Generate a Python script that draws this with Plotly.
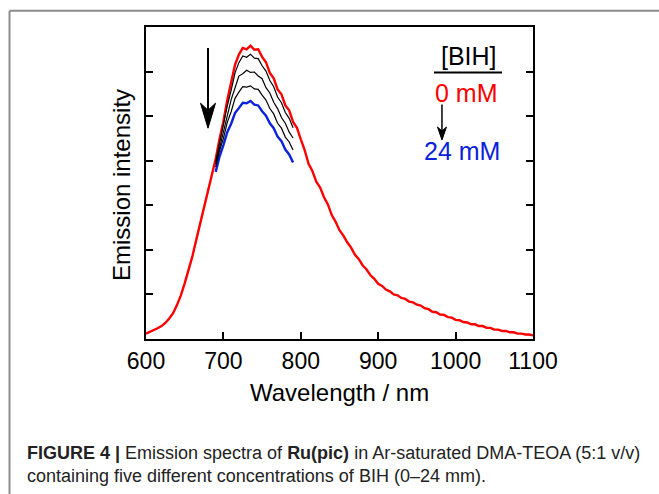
import plotly.graph_objects as go

# ---------------- data ----------------
wl_red = [600, 605, 610, 615, 620, 625, 630, 635, 640, 645, 650, 655, 660, 665, 670, 675,
          680, 685, 690, 695, 700, 705, 710, 715, 720, 725, 730, 735, 740, 745, 750, 755,
          760, 765, 770, 775, 780, 785, 790, 795, 800, 805, 810, 815, 820, 825, 830, 835,
          840, 845, 850, 855, 860, 865, 870, 875, 880, 885, 890, 895, 900, 905, 910, 915,
          920, 925, 930, 935, 940, 945, 950, 955, 960, 965, 970, 975, 980, 985, 990, 995,
          1000, 1005, 1010, 1015, 1020, 1025, 1030, 1035, 1040, 1045, 1050, 1055, 1060,
          1065, 1070, 1075, 1080, 1085, 1090, 1095, 1100]
int_0mM = [0.12, 0.16, 0.19, 0.24, 0.29, 0.36, 0.46, 0.58, 0.76, 0.98, 1.25, 1.55, 1.86, 2.23, 2.59, 2.98,
           3.31, 3.69, 4.04, 4.49, 4.88, 5.36, 5.72, 6.15, 6.38, 6.53, 6.50, 6.58, 6.49, 6.50, 6.33, 6.21,
           5.97, 5.85, 5.60, 5.49, 5.24, 5.13, 4.87, 4.74, 4.48, 4.24, 3.93, 3.77, 3.53, 3.40, 3.18, 3.02,
           2.78, 2.63, 2.44, 2.32, 2.17, 2.05, 1.89, 1.79, 1.65, 1.56, 1.43, 1.35, 1.24, 1.19, 1.11, 1.07,
           1.00, 0.98, 0.92, 0.90, 0.84, 0.82, 0.77, 0.75, 0.69, 0.67, 0.61, 0.60, 0.55, 0.54, 0.49, 0.48,
           0.43, 0.42, 0.38, 0.37, 0.33, 0.33, 0.29, 0.29, 0.25, 0.25, 0.21, 0.21, 0.18,
           0.18, 0.15, 0.15, 0.12, 0.12, 0.10, 0.10, 0.08]

wl_q = [690, 695, 700, 705, 710, 715, 720, 725, 730, 735, 740, 745, 750, 755, 760, 765,
        770, 775, 780, 785, 790]
int_q1 = [3.98, 4.42, 4.78, 5.23, 5.58, 5.97, 6.20, 6.35, 6.32, 6.39, 6.30, 6.29, 6.13, 6.01,
          5.80, 5.66, 5.43, 5.30, 5.08, 4.95, 4.74]
int_q2 = [3.92, 4.28, 4.68, 5.00, 5.37, 5.63, 5.90, 5.95, 6.03, 5.98, 5.99, 5.90, 5.84, 5.64,
          5.52, 5.31, 5.17, 4.97, 4.84, 4.64, 4.51]
int_q3 = [3.86, 4.22, 4.50, 4.86, 5.10, 5.40, 5.54, 5.66, 5.65, 5.68, 5.61, 5.60, 5.47, 5.36,
          5.17, 5.05, 4.84, 4.73, 4.53, 4.42, 4.24]
int_24mM = [3.75, 4.09, 4.35, 4.64, 4.83, 5.07, 5.18, 5.30, 5.29, 5.34, 5.26, 5.24, 5.11, 5.01,
            4.84, 4.73, 4.54, 4.44, 4.25, 4.14, 3.96]

x_ticks = [600, 700, 800, 900, 1000, 1100]
y_ticks = [1, 2, 3, 4, 5, 6]

RED = "#ff0000"
BLUE = "#0a22dc"
FONT = "Liberation Sans, Arial, sans-serif"

fig = go.Figure()
fig.add_trace(go.Scatter(x=wl_red, y=int_0mM, mode="lines", line=dict(color=RED, width=2.4)))
fig.add_trace(go.Scatter(x=wl_q, y=int_24mM, mode="lines", line=dict(color=BLUE, width=2.4)))
for s in (int_q3, int_q2, int_q1):
    fig.add_trace(go.Scatter(x=wl_q, y=s, mode="lines", line=dict(color="black", width=1.2)))

fig.update_layout(
    width=659, height=494,
    margin=dict(l=146, r=126, t=27, b=155),
    paper_bgcolor="white", plot_bgcolor="white",
    showlegend=False,
    font=dict(family=FONT, color="black"),
)
fig.update_xaxes(range=[600, 1100], tickvals=x_ticks, ticks="inside", ticklen=7, tickwidth=2,
                 tickcolor="black", showline=True, linewidth=2, linecolor="black", mirror=True,
                 showgrid=False, zeroline=False, tickfont=dict(size=23, family=FONT, color="black"))
fig.update_yaxes(range=[0, 7], tickvals=y_ticks, ticks="inside", ticklen=7, tickwidth=2,
                 tickcolor="black", showline=True, linewidth=2, linecolor="black", mirror="ticks",
                 showgrid=False, zeroline=False, showticklabels=False)

ann = []
ann.append(dict(xref="paper", yref="paper", x=-0.062, y=0.4936, text="Emission intensity",
                textangle=-90, showarrow=False, font=dict(size=24, family=FONT, color="black"),
                xanchor="center", yanchor="middle"))
ann.append(dict(xref="paper", yref="paper", x=0.5, y=-0.173, text="Wavelength / nm",
                showarrow=False, font=dict(size=24, family=FONT, color="black"),
                xanchor="center", yanchor="middle"))
ann.append(dict(xref="x", yref="y", x=1017.3, y=6.35, text="[BIH]", showarrow=False,
                font=dict(size=25, family=FONT, color="black"), xanchor="center", yanchor="middle"))
ann.append(dict(xref="x", yref="y", x=1014.7, y=5.52, text="0 mM", showarrow=False,
                font=dict(size=25, family=FONT, color=RED), xanchor="center", yanchor="middle"))
ann.append(dict(xref="x", yref="y", x=1008.9, y=4.21, text="24 mM", showarrow=False,
                font=dict(size=25, family=FONT, color=BLUE), xanchor="center", yanchor="middle"))
# caption
ann.append(dict(xref="paper", yref="paper", x=-0.3127, y=-0.3654, xanchor="left", yanchor="middle",
                text="<b>FIGURE 4 |</b> Emission spectra of <b>Ru(pic)</b> in Ar-saturated DMA-TEOA (5:1 v/v)",
                showarrow=False, font=dict(size=18, family=FONT, color="#222222")))
ann.append(dict(xref="paper", yref="paper", x=-0.3127, y=-0.4391, xanchor="left", yanchor="middle",
                text="containing five different concentrations of BIH (0–24 mm).",
                showarrow=False, font=dict(size=18, family=FONT, color="#222222")))
fig.update_layout(annotations=ann)

shapes = [
    # underline below [BIH]
    dict(type="line", xref="x", yref="y", x0=972, x1=1060, y0=5.98, y1=5.98,
         line=dict(color="black", width=2)),
    # big arrow shaft + head
    dict(type="line", xref="x", yref="y", x0=680.1, x1=680.1, y0=6.53, y1=5.0,
         line=dict(color="black", width=2)),
    dict(type="path", xref="x", yref="y", xsizemode="pixel", ysizemode="pixel",
         xanchor=680.1, yanchor=4.73, path="M0,0 L-7.5,25 L0,18 L7.5,25 Z",
         fillcolor="black", line=dict(color="black", width=1)),
    # small arrow shaft + head
    dict(type="line", xref="x", yref="y", x0=982.4, x1=982.4, y0=5.26, y1=4.6,
         line=dict(color="black", width=1.5)),
    dict(type="path", xref="x", yref="y", xsizemode="pixel", ysizemode="pixel",
         xanchor=982.4, yanchor=4.465, path="M0,0 L-4.5,13 L0,9 L4.5,13 Z",
         fillcolor="black", line=dict(color="black", width=1)),
    # figure frame (grey)
    dict(type="line", xref="paper", yref="paper", x0=-0.3527, x1=1.33, y0=1.0522, y1=1.0522,
         line=dict(color="#8c8c8c", width=2)),
    dict(type="line", xref="paper", yref="paper", x0=-0.3527, x1=-0.3527, y0=-0.55, y1=1.0522,
         line=dict(color="#8c8c8c", width=2)),
]
fig.update_layout(shapes=shapes)

fig.write_html("out.html", config={"displayModeBar": False},
               post_script="document.body.style.margin='0px';")
